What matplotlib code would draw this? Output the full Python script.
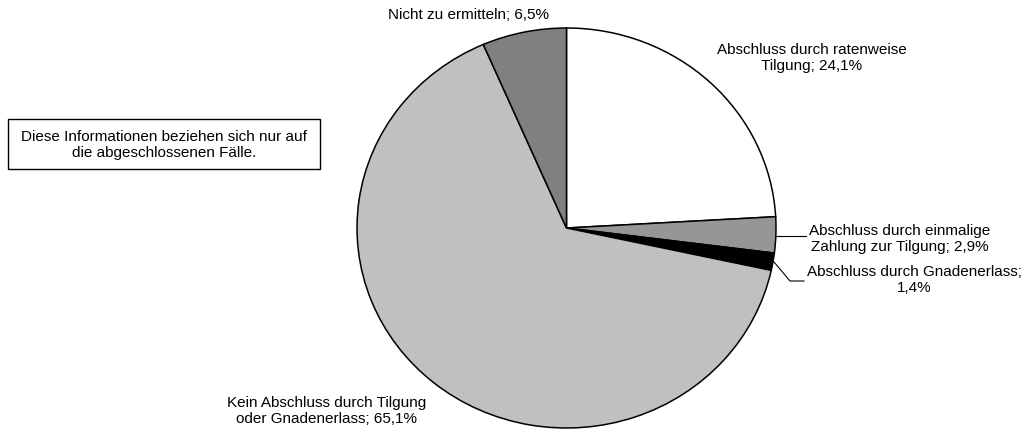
import matplotlib
matplotlib.use("Agg")
from matplotlib import pyplot as plt
from matplotlib.patches import Rectangle

# slice data, clockwise from 12 o'clock
labels = ["Abschluss durch ratenweise\nTilgung; 24,1%",
          "Abschluss durch einmalige\nZahlung zur Tilgung; 2,9%",
          "Abschluss durch Gnadenerlass;\n1,4%",
          "Kein Abschluss durch Tilgung\noder Gnadenerlass; 65,1%",
          "Nicht zu ermitteln; 6,5%"]
shares = [24.1, 2.9, 1.4, 65.1, 6.5]
colors = ["#ffffff", "#969696", "#000000", "#c0c0c0", "#808080"]
note = "Diese Informationen beziehen sich nur auf\ndie abgeschlossenen Fälle."

plt.rcParams['font.family'] = ['Liberation Sans', 'DejaVu Sans']

W, H = 1026, 431
cx, cy, rx, ry = 566.5, 229, 209.5, 200

fig = plt.figure(figsize=(W / 100, H / 100), dpi=100)
ax = fig.add_axes([0, 0, 1, 1])

# pie of radius 1 at origin, axes stretched so it comes out as in the reference
ax.pie(shares, colors=colors, startangle=90, counterclock=False, radius=1,
       wedgeprops=dict(edgecolor='black', linewidth=1.1))
ax.set_aspect('auto')
ax.set_xlim(-cx / rx, (W - cx) / rx)
ax.set_ylim(-(H - cy) / ry, cy / ry)
ax.axis('off')


def px(x, y):
    # pixel position (from top-left) -> data coords
    return (x - cx) / rx, (cy - y) / ry


fs = 11
ls = 1.25
# label positions in pixels
pos = [(812, 58), (900, 239), (914, 280), (327, 411), (469, 15)]
for lab, (x, y) in zip(labels, pos):
    ax.text(*px(x, y), lab, ha='center', va='center', fontsize=fs,
            linespacing=ls)

# leader lines
l1 = [px(776, 237), px(806, 237)]
ax.plot([p[0] for p in l1], [p[1] for p in l1], color='black', lw=0.8)
l2 = [px(774, 263), px(790, 282), px(804, 282)]
ax.plot([p[0] for p in l2], [p[1] for p in l2], color='black', lw=0.8)

# note box
x0, y0 = px(8, 170)
x1, y1 = px(320, 120)
ax.add_patch(Rectangle((x0, y0), x1 - x0, y1 - y0, facecolor='white',
                       edgecolor='black', linewidth=1))
ax.text(*px(164, 145), note, ha='center', va='center', fontsize=fs,
        linespacing=ls)

fig.savefig("out.png", dpi=100)
